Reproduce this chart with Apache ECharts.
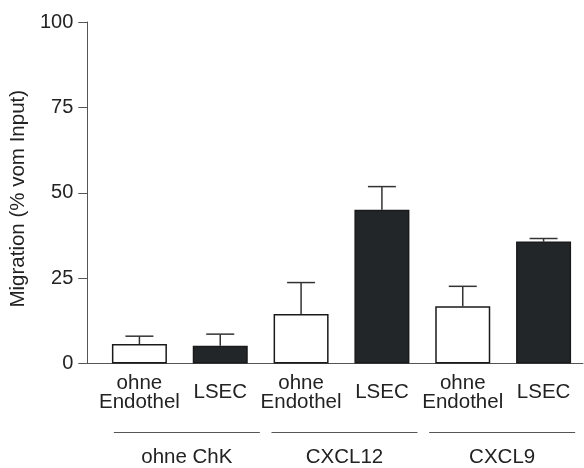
<!DOCTYPE html>
<html><head><meta charset="utf-8">
<script src="https://cdn.jsdelivr.net/npm/echarts@6/dist/echarts.min.js"></script>
<style>html,body{margin:0;padding:0;background:#fff}#c{width:584px;height:468px}</style>
</head><body><div id="c"></div>
<script>
const categories = ['ohne\nEndothel', 'LSEC', 'ohne\nEndothel', 'LSEC', 'ohne\nEndothel', 'LSEC'];
const groups = ['ohne ChK', 'CXCL12', 'CXCL9'];
const means = [5.7, 5.2, 14.5, 45.0, 16.8, 35.7];
const errorTops = [8.0, 8.6, 23.7, 51.8, 22.6, 36.6];
const fills = ['#ffffff', '#232628', '#ffffff', '#232628', '#ffffff', '#232628'];
const yMin = 0, yMax = 100, yStep = 25;

const FONT = "'Liberation Sans', Arial, sans-serif";
const chart = echarts.init(document.getElementById('c'), null, {renderer: 'canvas'});

const option = {
  animation: false,
  backgroundColor: '#fff',
  grid: [
    {left: 86, top: 22, width: 497, height: 341.5},
    {left: 99, top: 22, width: 487, height: 341.5},
    {left: 108, top: 380, width: 473, height: 53}
  ],
  xAxis: [
    {gridIndex: 0, type: 'value', min: 0, max: 1,
      axisLine: {show: true, lineStyle: {color: '#555', width: 1}},
      axisTick: {show: false}, axisLabel: {show: false}, splitLine: {show: false}},
    {gridIndex: 1, type: 'category', data: categories,
      axisLine: {show: false}, axisTick: {show: false},
      axisLabel: {margin: 29, verticalAlign: 'middle', lineHeight: 19, fontSize: 20.5,
        color: '#222', fontFamily: FONT, interval: 0}},
    {gridIndex: 2, type: 'category', data: groups,
      axisLine: {show: false}, axisTick: {show: false},
      axisLabel: {margin: 25, verticalAlign: 'middle', fontSize: 20.5, color: '#222', fontFamily: FONT, interval: 0}}
  ],
  yAxis: [
    {gridIndex: 0, type: 'value', min: yMin, max: yMax, interval: yStep,
      name: 'Migration (% vom Input)', nameLocation: 'middle', nameGap: 58,
      nameTextStyle: {fontSize: 20.5, color: '#222', fontFamily: FONT, padding: [0, 12, 0, 0]},
      axisLine: {show: true, lineStyle: {color: '#555', width: 1}},
      axisTick: {show: true, length: 9, lineStyle: {color: '#555'}},
      axisLabel: {margin: 14, fontSize: 20, color: '#222', fontFamily: FONT},
      splitLine: {show: false}},
    {gridIndex: 1, type: 'value', min: yMin, max: yMax, show: false},
    {gridIndex: 2, type: 'value', min: 0, max: 1, show: false}
  ],
  series: [
    {type: 'custom', xAxisIndex: 1, yAxisIndex: 1, z: 1,
      data: means.map((m, i) => [i, m, errorTops[i]]),
      renderItem: function (params, api) {
        const p0 = api.coord([api.value(0), api.value(1)]);
        const p1 = api.coord([api.value(0), api.value(2)]);
        const half = 14;
        const st = {stroke: '#333', lineWidth: 1.5};
        return {type: 'group', children: [
          {type: 'line', shape: {x1: p0[0], y1: p0[1], x2: p1[0], y2: p1[1]}, style: st},
          {type: 'line', shape: {x1: p1[0] - half, y1: p1[1], x2: p1[0] + half, y2: p1[1]}, style: st}
        ]};
      }},
    {type: 'bar', xAxisIndex: 1, yAxisIndex: 1, z: 2, barWidth: 55,
      data: means.map((m, i) => ({value: m, itemStyle: {color: fills[i]}})),
      itemStyle: {borderColor: '#1a1a1a', borderWidth: 1.5}},
    {type: 'custom', xAxisIndex: 2, yAxisIndex: 2,
      data: groups.map((g, i) => [i, 0]),
      renderItem: function (params, api) {
        const p = api.coord([api.value(0), api.value(1)]);
        const band = api.size([1, 0])[0];
        const half = band * 0.463;
        return {type: 'line', shape: {x1: p[0] - half, y1: p[1], x2: p[0] + half, y2: p[1]},
          style: {stroke: '#555', lineWidth: 1}};
      }}
  ]
};
chart.setOption(option);
</script></body></html>
